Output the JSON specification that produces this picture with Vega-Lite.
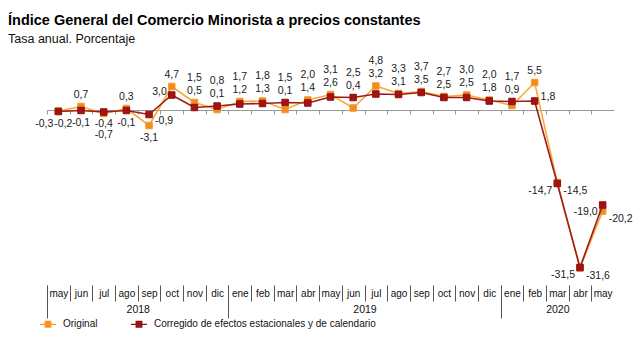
{
  "$schema": "https://vega.github.io/schema/vega-lite/v6.json",
  "width": 567,
  "height": 225,
  "autosize": {"type": "none"},
  "padding": {"left": 47, "top": 60, "right": 26, "bottom": 55},
  "title": {
    "text": "Índice General del Comercio Minorista a precios constantes",
    "subtitle": "Tasa anual. Porcentaje",
    "anchor": "start",
    "frame": "group",
    "dx": -39,
    "offset": 10,
    "font": "Liberation Sans",
    "fontSize": 14.5,
    "fontWeight": "bold",
    "color": "#000000",
    "subtitleFont": "Liberation Sans",
    "subtitleFontSize": 12.5,
    "subtitleColor": "#111111",
    "subtitlePadding": 4
  },
  "config": {
    "view": {"stroke": null},
    "font": "Liberation Sans",
    "locale": {"number": {"decimal": ",", "thousands": ".", "grouping": [3], "currency": ["", " €"], "minus": "-"}}
  },
  "data": {
    "values": [
      {"t": 0, "mes": "may", "anio": 2018, "serie": "Original", "valor": -0.2},
      {"t": 1, "mes": "jun", "anio": 2018, "serie": "Original", "valor": 0.7},
      {"t": 2, "mes": "jul", "anio": 2018, "serie": "Original", "valor": -0.7},
      {"t": 3, "mes": "ago", "anio": 2018, "serie": "Original", "valor": 0.3},
      {"t": 4, "mes": "sep", "anio": 2018, "serie": "Original", "valor": -3.1},
      {"t": 5, "mes": "oct", "anio": 2018, "serie": "Original", "valor": 4.7},
      {"t": 6, "mes": "nov", "anio": 2018, "serie": "Original", "valor": 1.5},
      {"t": 7, "mes": "dic", "anio": 2018, "serie": "Original", "valor": 0.1},
      {"t": 8, "mes": "ene", "anio": 2019, "serie": "Original", "valor": 1.7},
      {"t": 9, "mes": "feb", "anio": 2019, "serie": "Original", "valor": 1.8},
      {"t": 10, "mes": "mar", "anio": 2019, "serie": "Original", "valor": 0.1},
      {"t": 11, "mes": "abr", "anio": 2019, "serie": "Original", "valor": 2.0},
      {"t": 12, "mes": "may", "anio": 2019, "serie": "Original", "valor": 3.1},
      {"t": 13, "mes": "jun", "anio": 2019, "serie": "Original", "valor": 0.4},
      {"t": 14, "mes": "jul", "anio": 2019, "serie": "Original", "valor": 4.8},
      {"t": 15, "mes": "ago", "anio": 2019, "serie": "Original", "valor": 3.3},
      {"t": 16, "mes": "sep", "anio": 2019, "serie": "Original", "valor": 3.7},
      {"t": 17, "mes": "oct", "anio": 2019, "serie": "Original", "valor": 2.7},
      {"t": 18, "mes": "nov", "anio": 2019, "serie": "Original", "valor": 3.0},
      {"t": 19, "mes": "dic", "anio": 2019, "serie": "Original", "valor": 2.0},
      {"t": 20, "mes": "ene", "anio": 2020, "serie": "Original", "valor": 0.9},
      {"t": 21, "mes": "feb", "anio": 2020, "serie": "Original", "valor": 5.5},
      {"t": 22, "mes": "mar", "anio": 2020, "serie": "Original", "valor": -14.5},
      {"t": 23, "mes": "abr", "anio": 2020, "serie": "Original", "valor": -31.6},
      {"t": 24, "mes": "may", "anio": 2020, "serie": "Original", "valor": -20.2},
      {"t": 0, "mes": "may", "anio": 2018, "serie": "Corregido de efectos estacionales y de calendario", "valor": -0.3},
      {"t": 1, "mes": "jun", "anio": 2018, "serie": "Corregido de efectos estacionales y de calendario", "valor": -0.1},
      {"t": 2, "mes": "jul", "anio": 2018, "serie": "Corregido de efectos estacionales y de calendario", "valor": -0.4},
      {"t": 3, "mes": "ago", "anio": 2018, "serie": "Corregido de efectos estacionales y de calendario", "valor": -0.1},
      {"t": 4, "mes": "sep", "anio": 2018, "serie": "Corregido de efectos estacionales y de calendario", "valor": -0.9},
      {"t": 5, "mes": "oct", "anio": 2018, "serie": "Corregido de efectos estacionales y de calendario", "valor": 3.0},
      {"t": 6, "mes": "nov", "anio": 2018, "serie": "Corregido de efectos estacionales y de calendario", "valor": 0.5},
      {"t": 7, "mes": "dic", "anio": 2018, "serie": "Corregido de efectos estacionales y de calendario", "valor": 0.8},
      {"t": 8, "mes": "ene", "anio": 2019, "serie": "Corregido de efectos estacionales y de calendario", "valor": 1.2},
      {"t": 9, "mes": "feb", "anio": 2019, "serie": "Corregido de efectos estacionales y de calendario", "valor": 1.3},
      {"t": 10, "mes": "mar", "anio": 2019, "serie": "Corregido de efectos estacionales y de calendario", "valor": 1.5},
      {"t": 11, "mes": "abr", "anio": 2019, "serie": "Corregido de efectos estacionales y de calendario", "valor": 1.4},
      {"t": 12, "mes": "may", "anio": 2019, "serie": "Corregido de efectos estacionales y de calendario", "valor": 2.6},
      {"t": 13, "mes": "jun", "anio": 2019, "serie": "Corregido de efectos estacionales y de calendario", "valor": 2.5},
      {"t": 14, "mes": "jul", "anio": 2019, "serie": "Corregido de efectos estacionales y de calendario", "valor": 3.2},
      {"t": 15, "mes": "ago", "anio": 2019, "serie": "Corregido de efectos estacionales y de calendario", "valor": 3.1},
      {"t": 16, "mes": "sep", "anio": 2019, "serie": "Corregido de efectos estacionales y de calendario", "valor": 3.5},
      {"t": 17, "mes": "oct", "anio": 2019, "serie": "Corregido de efectos estacionales y de calendario", "valor": 2.5},
      {"t": 18, "mes": "nov", "anio": 2019, "serie": "Corregido de efectos estacionales y de calendario", "valor": 2.5},
      {"t": 19, "mes": "dic", "anio": 2019, "serie": "Corregido de efectos estacionales y de calendario", "valor": 1.8},
      {"t": 20, "mes": "ene", "anio": 2020, "serie": "Corregido de efectos estacionales y de calendario", "valor": 1.7},
      {"t": 21, "mes": "feb", "anio": 2020, "serie": "Corregido de efectos estacionales y de calendario", "valor": 1.8},
      {"t": 22, "mes": "mar", "anio": 2020, "serie": "Corregido de efectos estacionales y de calendario", "valor": -14.7},
      {"t": 23, "mes": "abr", "anio": 2020, "serie": "Corregido de efectos estacionales y de calendario", "valor": -31.5},
      {"t": 24, "mes": "may", "anio": 2020, "serie": "Corregido de efectos estacionales y de calendario", "valor": -19.0}
    ]
  },
  "resolve": {"axis": {"x": "independent"}},
  "layer": [
    {
      "transform": [{"filter": "datum.serie == 'Original'"}],
      "mark": {"type": "line", "color": "#F8AA35", "strokeWidth": 1.6},
      "encoding": {
        "x": {
          "field": "t", "type": "quantitative",
          "scale": {"domain": [-0.5, 24.5], "nice": false, "zero": false},
          "axis": {
            "orient": "bottom", "title": null, "grid": false, "domain": false,
            "values": [0,1,2,3,4,5,6,7,8,9,10,11,12,13,14,15,16,17,18,19,20,21,22,23,24,25],
            "tickOffset": -11.34, "labelOffset": 11.34,
            "tickSize": 16, "tickColor": "#555555", "tickWidth": 1,
            "labelExpr": "datum.value > 24 ? '' : ['may','jun','jul','ago','sep','oct','nov','dic','ene','feb','mar','abr','may','jun','jul','ago','sep','oct','nov','dic','ene','feb','mar','abr','may'][datum.value]",
            "labelPadding": -13, "labelFontSize": 10, "labelColor": "#111111",
            "labelFlush": false, "labelOverlap": false, "labelBound": false
          }
        },
        "y": {"field": "valor", "type": "quantitative", "scale": {"domain": [-35, 10], "nice": false}, "axis": null}
      }
    },
    {
      "transform": [{"filter": "datum.serie == 'Original'"}],
      "mark": {"type": "square", "size": 42, "opacity": 1, "filled": true, "strokeWidth": 1},
      "encoding": {
        "x": {
          "field": "t", "type": "quantitative",
          "axis": {
            "orient": "bottom", "title": null, "grid": false, "offset": -175,
            "domain": true, "domainColor": "#999999", "domainWidth": 1,
            "values": [0,1,2,3,4,5,6,7,8,9,10,11,12,13,14,15,16,17,18,19,20,21,22,23,24,25],
            "tickOffset": -11.34, "tickSize": 4, "tickColor": "#999999",
            "labels": false
          }
        },
        "y": {"field": "valor", "type": "quantitative", "axis": null},
        "fill": {
          "field": "serie", "type": "nominal",
          "scale": {"domain": ["Original", "Corregido de efectos estacionales y de calendario"], "range": ["#F28C1F", "#A51212"]},
          "legend": {
            "orient": "none", "legendX": -8, "legendY": 255, "direction": "horizontal", "title": null,
            "symbolType": "M-1,0H1M-0.35,-0.35H0.35V0.35H-0.35Z", "symbolSize": 256, "symbolStrokeWidth": 1.3,
            "labelFontSize": 10, "labelColor": "#111111", "labelLimit": 400, "labelOffset": 6, "columnPadding": 30, "padding": 0
          }
        },
        "stroke": {
          "field": "serie", "type": "nominal",
          "scale": {"domain": ["Original", "Corregido de efectos estacionales y de calendario"], "range": ["#F39A2A", "#8E1010"]},
          "legend": {
            "orient": "none", "legendX": -8, "legendY": 255, "direction": "horizontal", "title": null,
            "symbolType": "M-1,0H1M-0.35,-0.35H0.35V0.35H-0.35Z", "symbolSize": 256, "symbolStrokeWidth": 1.3,
            "labelFontSize": 10, "labelColor": "#111111", "labelLimit": 400, "labelOffset": 6, "columnPadding": 30, "padding": 0
          }
        }
      }
    },
    {
      "transform": [{"filter": "datum.serie != 'Original'"}],
      "mark": {"type": "line", "color": "#9E1B1B", "strokeWidth": 1.6},
      "encoding": {
        "x": {
          "field": "t", "type": "quantitative",
          "axis": {
            "orient": "bottom", "title": null, "grid": false, "domain": false,
            "values": [0, 8, 20, 25],
            "tickOffset": -11.34, "tickSize": 33, "tickColor": "#555555", "tickWidth": 1,
            "labels": false
          }
        },
        "y": {"field": "valor", "type": "quantitative", "axis": null}
      }
    },
    {
      "transform": [{"filter": "datum.serie != 'Original'"}],
      "mark": {"type": "square", "size": 42, "opacity": 1, "filled": true, "strokeWidth": 1},
      "encoding": {
        "x": {
          "field": "t", "type": "quantitative",
          "axis": {
            "orient": "bottom", "title": null, "grid": false, "domain": false, "ticks": false, "tickSize": 0,
            "values": [3.5, 13.5, 22],
            "labelExpr": "datum.value < 8 ? '2018' : (datum.value < 20 ? '2019' : '2020')",
            "labelPadding": 19, "labelFontSize": 10.5, "labelColor": "#111111",
            "labelFlush": false, "labelOverlap": false, "labelBound": false
          }
        },
        "y": {"field": "valor", "type": "quantitative", "axis": null},
        "fill": {"field": "serie", "type": "nominal"},
        "stroke": {"field": "serie", "type": "nominal"}
      }
    },
    {
      "transform": [
        {"joinaggregate": [{"op": "max", "field": "valor", "as": "hi"}, {"op": "min", "field": "valor", "as": "lo"}], "groupby": ["t"]},
        {"calculate": "datum.hi - datum.lo", "as": "g"},
        {"calculate": "(datum.serie == 'Original' && datum.valor == datum.hi) || (datum.serie != 'Original' && datum.valor == datum.lo)", "as": "oHi"},
        {"calculate": "datum.lo > 0 ? ((datum.g > 1.65 && datum.oHi) ? (datum.valor == datum.hi ? 'A' : (datum.g > 3 ? 'RP' : 'LP')) : (datum.valor == datum.hi ? 'S1' : 'S2')) : (datum.hi > 0 ? (datum.valor == datum.hi ? 'A' : 'B') : ((datum.g < 0.15 && datum.lo > -5) ? (datum.serie == 'Original' ? 'R0' : 'L0') : (datum.lo < -5 ? (datum.serie == 'Original' ? 'R2' : 'L') : (datum.g > 1.65 ? (datum.valor == datum.hi ? 'R' : 'B') : (datum.valor == datum.hi ? 'N1' : 'N2')))))", "as": "rol"},
        {"calculate": "datum.rol == 'A' ? datum.valor + 2.4 : datum.rol == 'S1' ? datum.hi + 5 : datum.rol == 'S2' ? datum.hi + 2.4 : datum.rol == 'B' ? datum.valor - 2.4 : datum.rol == 'L' ? datum.valor - 1.4 : datum.rol == 'L0' ? datum.valor - 2.5 : datum.rol == 'LP' ? datum.valor + 0.7 : datum.rol == 'R' ? datum.valor - 1.3 : datum.rol == 'RP' ? datum.valor + 0.9 : datum.rol == 'R2' ? datum.valor - 1.6 : datum.rol == 'R0' ? datum.valor - 2.5 : datum.rol == 'N1' ? datum.lo - 2.0 : datum.rol == 'N2' ? datum.lo - 4.2 : datum.valor", "as": "ylab"}
      ],
      "layer": [
        {
          "transform": [{"filter": "indexof(['A','S1','S2','B','N1','N2'], datum.rol) >= 0"}],
          "mark": {"type": "text", "align": "center", "baseline": "middle", "fontSize": 10.5, "color": "#1a1a1a"},
          "encoding": {
            "x": {"field": "t", "type": "quantitative", "axis": null},
            "y": {"field": "ylab", "type": "quantitative", "axis": null},
            "text": {"field": "valor", "type": "quantitative", "format": ".1f"}
          }
        },
        {
          "transform": [{"filter": "datum.rol == 'L' || datum.rol == 'L0' || datum.rol == 'LP'"}],
          "mark": {"type": "text", "align": "right", "baseline": "middle", "dx": -5, "fontSize": 10.5, "color": "#1a1a1a"},
          "encoding": {
            "x": {"field": "t", "type": "quantitative", "axis": null},
            "y": {"field": "ylab", "type": "quantitative", "axis": null},
            "text": {"field": "valor", "type": "quantitative", "format": ".1f"}
          }
        },
        {
          "transform": [{"filter": "datum.rol == 'R' || datum.rol == 'RP' || datum.rol == 'R2'"}],
          "mark": {"type": "text", "align": "left", "baseline": "middle", "dx": 6, "fontSize": 10.5, "color": "#1a1a1a"},
          "encoding": {
            "x": {"field": "t", "type": "quantitative", "axis": null},
            "y": {"field": "ylab", "type": "quantitative", "axis": null},
            "text": {"field": "valor", "type": "quantitative", "format": ".1f"}
          }
        },
        {
          "transform": [{"filter": "datum.rol == 'R0'"}],
          "mark": {"type": "text", "align": "left", "baseline": "middle", "dx": -4, "fontSize": 10.5, "color": "#1a1a1a"},
          "encoding": {
            "x": {"field": "t", "type": "quantitative", "axis": null},
            "y": {"field": "ylab", "type": "quantitative", "axis": null},
            "text": {"field": "valor", "type": "quantitative", "format": ".1f"}
          }
        }
      ]
    }
  ]
}
